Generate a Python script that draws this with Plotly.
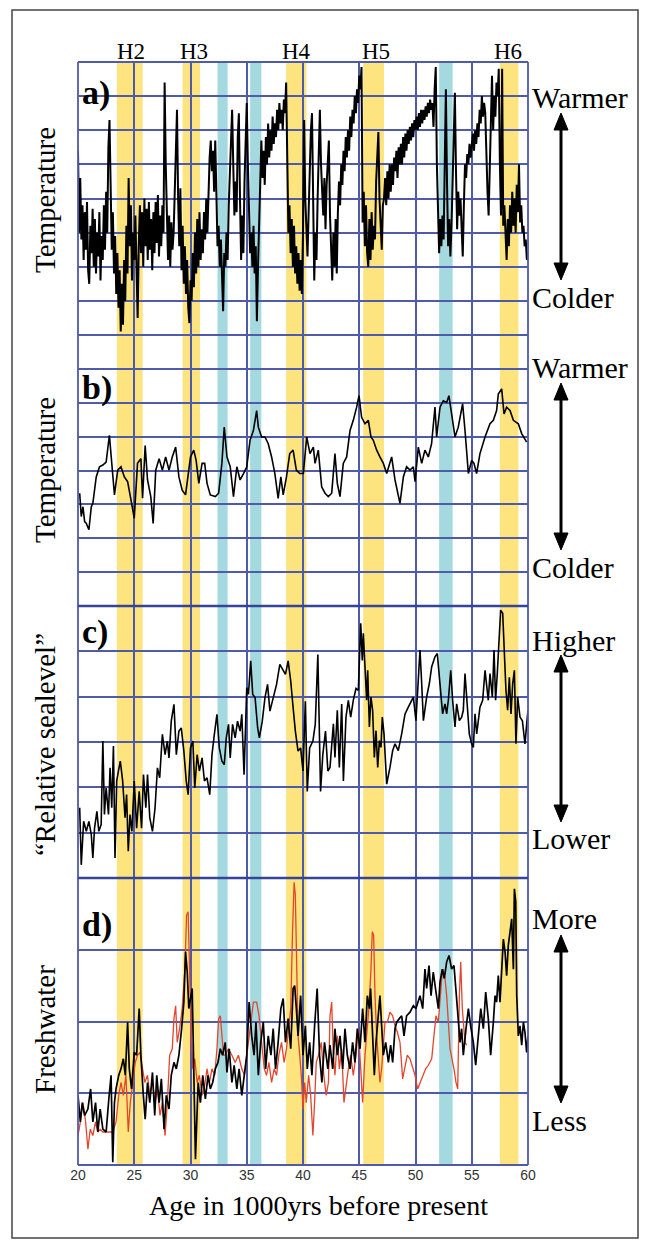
import plotly.graph_objects as go

# ---------------- data ----------------
# Panel a: temperature proxy (grid units 0..8)
a_age = [20.0,20.1,20.2,20.3,20.4,20.5,20.6,20.7,20.8,20.9,
21.0,21.1,21.2,21.3,21.4,21.5,21.6,21.7,21.8,21.9,
22.0,22.1,22.2,22.3,22.4,22.5,22.6,22.7,22.8,22.9,
23.0,23.1,23.2,23.3,23.4,23.5,23.6,23.7,23.8,23.9,
24.0,24.1,24.2,24.3,24.4,24.5,24.6,24.7,24.8,24.9,
25.0,25.1,25.2,25.3,25.4,25.5,25.6,25.7,25.8,25.9,
26.0,26.1,26.2,26.3,26.4,26.5,26.6,26.7,26.8,26.9,
27.0,27.1,27.2,27.3,27.4,27.5,27.6,27.7,27.8,27.9,
28.0,28.1,28.2,28.3,28.4,28.5,28.6,28.7,28.8,28.9,
29.0,29.1,29.2,29.3,29.4,29.5,29.6,29.7,29.8,29.9,
30.0,30.1,30.2,30.3,30.4,30.5,30.6,30.7,30.8,30.9,
31.0,31.1,31.2,31.3,31.4,31.5,31.6,31.7,31.8,31.9,
32.0,32.1,32.2,32.3,32.4,32.5,32.6,32.7,32.8,32.9,
33.0,33.1,33.2,33.3,33.4,33.5,33.6,33.7,33.8,33.9,
34.0,34.1,34.2,34.3,34.4,34.5,34.6,34.7,34.8,34.9,
35.0,35.1,35.2,35.3,35.4,35.5,35.6,35.7,35.8,35.9,
36.0,36.1,36.2,36.3,36.4,36.5,36.6,36.7,36.8,36.9,
37.0,37.1,37.2,37.3,37.4,37.5,37.6,37.7,37.8,37.9,
38.0,38.1,38.2,38.3,38.4,38.5,38.6,38.7,38.8,38.9,
39.0,39.1,39.2,39.3,39.4,39.5,39.6,39.7,39.8,39.9,
40.0,40.1,40.2,40.3,40.4,40.5,40.6,40.7,40.8,40.9,
41.0,41.1,41.2,41.3,41.4,41.5,41.6,41.7,41.8,41.9,
42.0,42.1,42.2,42.3,42.4,42.5,42.6,42.7,42.8,42.9,
43.0,43.1,43.2,43.3,43.4,43.5,43.6,43.7,43.8,43.9,
44.0,44.1,44.2,44.3,44.4,44.5,44.6,44.7,44.8,44.9,
45.0,45.1,45.2,45.3,45.4,45.5,45.6,45.7,45.8,45.9,
46.0,46.1,46.2,46.3,46.4,46.5,46.6,46.7,46.8,46.9,
47.0,47.1,47.2,47.3,47.4,47.5,47.6,47.7,47.8,47.9,
48.0,48.1,48.2,48.3,48.4,48.5,48.6,48.7,48.8,48.9,
49.0,49.1,49.2,49.3,49.4,49.5,49.6,49.7,49.8,49.9,
50.0,50.1,50.2,50.3,50.4,50.5,50.6,50.7,50.8,50.9,
51.0,51.1,51.2,51.3,51.4,51.5,51.6,51.7,51.8,51.9,
52.0,52.1,52.2,52.3,52.4,52.5,52.6,52.7,52.8,52.9,
53.0,53.1,53.2,53.3,53.4,53.5,53.6,53.7,53.8,53.9,
54.0,54.1,54.2,54.3,54.4,54.5,54.6,54.7,54.8,54.9,
55.0,55.1,55.2,55.3,55.4,55.5,55.6,55.7,55.8,55.9,
56.0,56.1,56.2,56.3,56.4,56.5,56.6,56.7,56.8,56.9,
57.0,57.1,57.2,57.3,57.4,57.5,57.6,57.7,57.8,57.9,
58.0,58.1,58.2,58.3,58.4,58.5,58.6,58.7,58.8,58.9,
59.0,59.1,59.2,59.3,59.4,59.5,59.6,59.7,59.8,59.9,
60.0]
a_val = [5.4,3.0,4.6,2.8,3.8,2.2,3.6,2.5,3.9,1.9,
1.5,3.2,2.4,3.7,2.0,3.4,1.8,3.0,2.3,3.6,
1.6,2.9,2.2,3.8,2.5,4.2,3.0,5.5,6.3,4.2,
2.5,3.6,1.8,2.9,1.2,2.4,0.8,1.9,0.1,1.5,
0.3,2.2,1.0,3.2,1.8,4.6,2.6,3.8,1.6,3.0,
2.2,3.5,1.4,0.5,2.6,3.8,2.4,3.6,2.0,4.0,
2.6,3.7,2.2,3.9,2.5,3.4,1.9,3.6,2.4,3.9,
2.7,4.1,2.3,3.5,2.6,3.8,3.0,7.4,5.0,3.1,
2.2,3.5,2.0,3.3,2.5,3.0,4.2,6.0,6.6,4.0,
2.6,4.3,1.9,3.2,1.5,2.6,1.2,2.2,0.8,0.35,
1.6,1.0,2.4,1.4,3.0,1.8,3.4,2.0,3.6,2.2,
3.1,2.4,3.6,2.8,4.0,3.0,4.6,5.2,5.7,4.8,
5.4,4.2,5.7,3.4,2.6,3.2,2.0,2.8,1.8,0.7,
2.4,2.0,3.0,2.2,3.8,5.0,6.0,6.6,5.0,3.5,
4.5,3.6,5.8,6.5,4.0,2.2,3.5,2.4,4.5,6.0,
6.8,5.0,3.2,2.4,3.0,2.0,3.2,1.8,2.6,0.4,
2.0,3.0,4.5,5.7,4.6,5.4,4.4,5.8,5.0,6.2,
5.2,6.0,5.4,6.4,5.6,6.2,5.8,6.6,6.0,6.8,
6.2,6.6,6.0,6.9,6.5,7.4,4.5,3.0,3.8,2.4,
3.4,2.0,3.2,1.8,2.6,1.5,2.4,1.3,2.2,1.2,
3.0,6.3,4.0,2.8,2.3,3.6,5.0,6.0,6.5,4.2,
1.6,3.0,2.2,4.0,5.5,6.6,5.0,4.2,3.5,4.6,
3.1,4.4,5.2,5.7,3.5,2.6,1.6,3.0,2.0,3.4,
1.8,3.6,4.5,3.8,5.0,4.4,5.4,4.8,5.8,5.2,
6.0,5.4,6.4,5.8,6.6,6.2,7.0,6.5,7.2,6.8,
7.6,7.2,7.85,3.3,4.2,2.6,3.8,2.4,2.0,3.4,
2.2,3.6,2.5,3.2,2.8,4.5,5.4,5.95,4.0,3.0,
2.5,3.8,4.0,4.6,3.8,4.8,4.0,5.0,4.2,5.0,
4.4,5.2,4.8,5.4,4.6,5.5,5.0,5.6,5.0,5.8,
5.2,5.9,5.4,6.0,5.6,6.1,5.7,6.2,5.8,6.3,
6.0,6.4,6.0,6.5,6.1,6.6,6.2,6.6,6.3,6.7,
6.4,6.8,6.5,6.9,6.6,6.8,6.1,7.2,7.85,5.0,
3.1,2.4,3.4,2.6,3.5,2.8,5.0,7.2,4.5,2.6,
3.4,2.3,3.2,4.5,6.0,7.1,4.8,3.1,4.2,3.5,
4.0,3.0,2.3,3.8,5.0,4.6,5.3,5.0,5.6,5.2,
5.5,5.9,5.4,6.0,5.6,6.2,5.8,6.6,6.2,7.0,
6.4,6.8,6.5,5.0,4.2,3.5,4.8,6.5,7.6,6.0,
7.0,6.4,7.4,7.0,7.8,5.0,3.5,7.8,3.2,3.8,
2.8,2.2,3.4,2.6,3.8,3.0,4.2,3.2,4.0,3.0,
4.4,3.6,5.0,3.3,3.8,3.0,3.2,2.6,2.8,2.2,
2.4]

# Panel b: temperature proxy (grid units 0..8)
b_age = [20.15,20.29,20.44,20.59,20.74,20.97,21.18,21.32,21.62,21.91,22.21,22.5,22.79,22.94,
23.24,23.53,23.82,24.12,24.41,24.71,25.0,25.29,25.59,25.74,25.97,26.18,26.47,26.68,26.91,
27.21,27.5,27.79,28.09,28.38,28.68,28.97,29.26,29.56,30.0,30.29,30.5,30.74,31.03,31.26,
31.47,31.76,32.21,32.5,32.79,33.0,33.24,33.53,33.82,34.12,34.41,34.71,35.0,35.29,35.59,
35.88,36.03,36.32,36.62,36.91,37.21,37.5,37.79,38.03,38.24,38.53,38.82,39.12,39.41,39.71,
40.03,40.33,40.62,40.92,41.07,41.36,41.66,41.96,42.25,42.55,42.84,43.05,43.29,43.58,43.88,
44.18,44.47,44.77,44.98,45.21,45.51,45.81,46.04,46.25,46.55,46.84,47.14,47.44,47.88,48.18,
48.62,48.92,49.21,49.51,49.81,49.96,50.25,50.55,50.84,51.14,51.43,51.73,51.88,52.18,52.47,
52.77,52.97,53.21,53.51,53.8,54.19,54.4,54.55,54.7,54.99,55.2,55.43,55.73,56.18,56.62,
56.92,57.21,57.36,57.66,57.87,58.1,58.4,58.7,59.14,59.44,59.88]
b_val = [3.33,2.64,2.93,2.49,2.44,2.25,2.93,3.03,3.81,4.11,4.16,4.25,5.04,4.40,
3.28,4.01,4.11,3.81,3.67,3.13,2.59,4.21,4.35,3.18,4.74,3.72,3.23,2.44,4.01,
4.35,4.01,4.40,4.01,4.40,4.69,3.81,3.42,3.28,4.40,4.60,4.30,3.62,4.21,4.21,
3.62,3.28,3.23,3.33,4.21,5.28,4.40,4.11,3.23,4.11,3.72,3.91,4.11,4.89,5.18,
5.77,5.28,4.99,4.99,4.79,4.40,3.91,3.18,3.81,3.28,3.81,4.50,4.60,4.01,3.91,
3.91,4.99,4.50,4.69,4.21,4.60,3.52,3.33,3.23,3.33,4.50,3.62,3.23,4.21,4.40,
5.18,5.48,5.87,6.21,5.57,5.38,5.48,4.99,4.89,4.60,4.40,4.21,3.91,4.40,3.72,
3.03,3.81,4.11,4.01,4.11,3.67,4.69,4.21,4.60,4.40,4.79,5.87,4.99,5.87,6.06,
6.01,6.21,5.67,4.99,5.28,5.97,5.18,4.40,3.91,4.30,4.21,3.91,4.50,4.99,5.38,
5.48,5.77,6.26,6.41,5.67,5.87,5.77,5.48,5.38,5.09,4.84]

# Panel c: relative sea level (grid units 0..6)
c_age = [20.15,20.29,20.5,20.74,20.97,21.18,21.32,21.47,21.68,21.85,22.06,22.21,22.35,22.5,
22.71,22.85,23.0,23.15,23.29,23.44,23.59,23.76,23.97,24.18,24.32,24.47,24.62,24.79,25.0,
25.21,25.44,25.65,25.82,26.03,26.18,26.38,26.62,26.85,27.06,27.26,27.5,27.74,27.94,28.09,
28.29,28.53,28.74,28.97,29.18,29.41,29.62,29.79,30.0,30.21,30.38,30.59,30.79,31.03,31.24,
31.47,31.71,31.91,32.12,32.35,32.56,32.79,33.0,33.18,33.38,33.53,33.74,33.97,34.18,34.41,
34.56,34.76,35.0,35.15,35.35,35.53,35.74,35.97,36.12,36.38,36.62,36.85,37.06,37.35,37.65,
37.94,38.24,38.44,38.68,38.91,39.12,39.32,39.56,39.79,40.0,40.21,40.38,40.59,40.88,41.09,
41.32,41.56,41.76,42.0,42.21,
42.4,42.7,42.84,43.05,43.23,43.44,43.59,43.82,44.03,44.24,44.47,44.71,44.92,45.13,45.27,
45.36,45.51,45.66,45.75,45.9,46.04,46.19,46.34,46.49,46.64,46.79,46.93,47.05,47.2,47.44,
47.73,47.97,48.18,48.47,48.77,49.07,49.36,49.66,49.81,50.04,50.25,50.4,50.55,50.7,50.99,
51.23,51.44,51.73,51.94,52.18,52.41,52.62,52.77,52.92,53.13,53.3,53.51,53.66,53.9,54.1,
54.25,54.4,54.61,54.78,54.99,55.14,55.29,55.44,55.73,55.97,56.18,56.33,56.47,56.62,56.83,
56.98,57.12,57.27,57.42,57.57,57.75,57.9,58.04,58.19,58.34,58.49,58.64,58.79,58.93,59.08,
59.29,59.5,59.73,59.94,60.0]
c_val = [1.55,0.29,1.25,1.03,1.25,0.96,0.44,1.10,1.47,1.03,1.18,3.02,1.40,1.99,
1.40,2.43,1.55,2.91,0.44,2.14,2.36,2.58,2.14,1.33,1.84,0.59,1.40,1.03,2.14,
1.10,1.91,1.10,2.28,1.55,2.28,1.33,1.03,1.55,2.43,2.21,3.17,2.72,3.02,2.65,
3.46,3.83,2.72,3.24,3.31,2.80,2.14,1.84,2.87,3.02,1.99,2.72,2.36,2.65,2.14,
2.21,1.84,2.72,3.17,3.61,2.87,2.58,2.50,3.09,3.39,2.65,3.39,3.09,3.46,3.24,
3.61,2.28,4.20,4.05,4.79,4.05,3.98,3.31,3.09,3.46,3.98,4.27,3.68,3.98,4.27,
4.71,4.57,4.49,4.79,4.34,3.76,3.24,2.80,2.87,2.36,3.90,1.91,2.87,3.02,3.39,
4.93,1.91,2.72,3.24,2.36,
2.44,3.40,2.66,3.70,2.44,3.84,2.14,3.55,3.92,3.55,3.92,4.18,4.14,5.62,4.80,
5.40,4.73,3.92,4.58,3.33,3.99,3.70,2.66,3.25,2.44,3.03,2.88,3.55,3.18,2.07,
2.44,2.81,2.96,2.81,3.18,3.62,3.77,3.92,3.99,3.47,4.29,5.03,4.29,3.47,3.99,
4.29,4.66,4.88,4.95,4.21,3.62,3.84,3.62,3.92,4.58,3.92,3.33,3.84,3.47,3.55,
3.70,4.51,3.70,3.18,2.96,2.88,3.62,3.18,3.77,3.92,4.58,4.21,3.92,4.51,3.99,
5.03,3.92,4.51,5.25,5.91,5.84,5.03,4.14,3.70,4.43,3.62,4.29,4.58,2.96,3.99,
3.55,3.47,2.96,3.55,3.70]

# Panel d: freshwater, black record (grid units 0..4)
d_age = [20.0,20.21,20.38,20.59,20.88,21.12,21.32,21.56,21.76,21.97,22.21,22.5,22.74,22.94,
23.09,23.24,23.38,23.62,23.82,24.03,24.21,24.41,24.56,24.76,25.0,25.21,25.44,25.59,25.79,
25.97,26.18,26.38,26.62,26.82,27.0,27.21,27.41,27.65,27.85,28.09,28.29,28.53,28.74,28.97,
29.21,29.41,29.56,29.71,29.85,30.0,30.15,30.29,30.44,30.68,30.88,31.09,31.32,31.56,31.76,
31.97,32.21,32.44,32.65,32.85,33.09,33.24,33.44,33.68,33.88,34.12,34.32,34.56,34.76,35.0,
35.21,35.44,35.65,35.82,36.03,36.24,36.47,36.68,36.91,37.15,37.35,37.56,37.79,38.03,38.24,
38.44,38.68,38.91,39.12,39.26,39.41,39.56,39.79,40.0,40.21,40.38,40.59,40.79,41.03,41.26,
41.47,41.68,41.91,42.21,
42.4,42.64,42.84,43.05,43.29,43.53,43.73,43.94,44.18,44.41,44.62,44.83,45.07,45.3,45.51,
45.72,45.9,46.01,46.19,46.34,46.49,46.7,46.84,46.99,47.14,47.35,47.59,47.79,47.97,48.18,
48.33,48.56,48.77,48.98,49.21,49.51,49.81,50.04,50.19,50.4,50.64,50.84,50.99,51.2,51.38,
51.58,51.82,52.03,52.18,52.38,52.56,52.77,52.98,53.21,53.42,53.6,53.75,53.96,54.1,54.25,
54.49,54.7,54.9,55.14,55.35,55.59,55.8,56.03,56.24,56.47,56.68,56.92,57.07,57.21,57.36,
57.51,57.66,57.81,57.96,58.1,58.25,58.4,58.55,58.7,58.79,58.91,59.0,59.14,59.29,59.44,
59.59,59.73,59.88,60.0]
d_val = [0.97,0.60,0.87,0.69,0.78,1.06,0.60,0.87,0.46,0.78,0.50,0.46,0.92,1.25,
0.04,0.87,1.06,1.25,1.34,1.48,1.25,1.99,1.34,1.06,1.57,1.53,2.18,1.53,1.01,
0.64,1.15,0.87,1.29,0.69,1.25,0.87,1.20,0.50,0.97,0.78,1.25,1.43,1.34,1.53,
1.90,2.27,2.97,2.69,2.18,2.36,2.46,1.34,0.08,1.15,0.87,1.25,0.92,1.25,1.06,
1.15,1.34,1.43,1.62,1.53,1.71,1.29,1.62,1.15,1.39,1.06,1.34,0.97,1.25,1.53,
2.27,1.80,1.53,1.99,1.25,1.71,1.99,1.34,1.80,1.53,1.90,1.34,1.71,2.18,2.32,
1.71,2.04,1.62,2.46,2.50,2.18,1.80,2.36,1.53,1.94,1.34,1.71,1.25,1.94,2.46,
1.53,1.15,1.71,1.34,
1.67,1.34,1.90,1.53,1.80,1.34,1.90,1.53,1.34,1.71,1.43,1.90,1.62,2.18,1.71,
2.36,2.18,2.46,1.80,1.25,1.71,2.18,2.36,1.94,1.53,1.71,1.43,1.67,1.43,1.90,
1.99,2.04,2.08,1.80,2.08,2.13,2.22,2.18,2.27,2.36,2.18,2.73,2.46,2.78,2.36,
2.69,2.41,2.18,2.55,2.73,2.60,2.83,2.92,2.73,2.78,2.46,2.08,1.71,1.90,1.53,
1.90,2.18,1.94,1.71,1.39,1.80,2.18,1.90,2.41,2.04,1.53,1.99,2.36,2.27,2.64,
2.27,2.73,3.15,2.97,2.64,3.06,3.29,3.43,2.73,3.85,3.67,2.36,1.80,1.94,1.67,
1.99,1.85,1.57,1.80]

# Panel d: freshwater, red record (grid units 0..4)
r_age = [20.0,20.21,20.44,20.68,20.88,21.09,21.32,21.56,21.76,21.97,22.21,22.5,22.79,23.09,
23.38,23.62,23.82,24.03,24.26,24.47,24.65,24.85,25.09,25.29,25.5,25.74,25.94,26.18,26.38,
26.62,26.85,27.06,27.29,27.5,27.74,27.94,28.15,28.38,28.53,28.68,28.82,29.03,29.26,29.5,
29.65,29.79,29.91,30.06,30.21,30.38,30.59,30.79,31.03,31.26,31.47,31.68,31.91,32.15,32.35,
32.5,32.65,32.79,32.94,33.09,33.38,33.68,33.97,34.26,34.56,34.79,35.0,35.29,35.59,35.88,
36.09,36.32,36.56,36.76,36.97,37.21,37.44,37.65,37.85,38.09,38.32,38.53,38.74,38.91,39.06,
39.21,39.32,39.44,39.56,39.71,39.85,40.0,40.15,40.29,40.5,40.68,40.88,41.03,41.18,41.38,
41.62,41.85,42.06,42.26,
42.4,42.55,42.7,42.84,43.05,43.23,43.44,43.64,43.82,44.03,44.24,44.47,44.71,44.92,45.13,
45.3,45.51,45.72,45.9,46.04,46.16,46.28,46.4,46.55,46.7,46.84,46.99,47.14,47.29,47.5,
47.73,47.97,48.18,48.39,48.62,48.86,49.07,49.27,49.51,49.75,49.96,50.19,50.4,50.64,50.9,
51.14,51.44,51.64,51.82,52.03,52.18,52.33,52.47,52.62,52.77,52.92,53.07,53.3,53.42,53.6,
53.75,53.9,54.02,54.16,54.4,54.55]
r_val = [0.41,0.60,0.87,0.60,0.22,0.50,0.41,0.60,0.46,0.50,0.46,0.46,0.46,0.46,
0.60,0.97,1.15,0.97,1.25,0.46,0.87,1.15,1.43,1.53,1.57,1.34,1.15,1.25,0.97,
1.15,0.87,1.06,0.69,0.87,0.41,0.87,1.53,1.62,2.04,2.22,1.71,1.90,2.18,2.73,
3.48,3.53,2.73,1.80,1.34,1.48,1.15,1.25,0.97,1.11,1.34,1.15,1.34,1.25,1.62,
2.04,2.08,1.80,1.53,1.53,1.62,1.53,1.43,1.53,1.34,1.25,1.53,1.90,2.27,2.27,
2.08,1.71,1.34,1.25,1.43,1.15,1.34,1.25,1.53,1.71,1.43,1.62,1.99,2.18,3.20,
3.94,3.76,2.73,1.80,1.53,1.25,0.78,1.15,0.87,1.25,0.97,0.41,0.87,1.43,1.53,
1.71,1.25,0.97,1.15,
2.08,2.27,1.53,1.25,1.80,1.34,1.62,0.87,1.11,1.34,1.53,1.25,1.53,1.90,1.34,
0.87,1.53,1.90,2.27,2.73,3.25,3.20,2.36,1.80,1.43,1.15,1.34,1.71,1.99,1.99,
2.13,2.08,1.94,1.85,1.71,1.20,1.39,1.53,1.48,1.34,1.25,1.06,1.15,1.25,1.34,
1.39,1.48,1.80,2.08,1.99,2.36,2.60,2.73,2.60,2.36,2.04,1.62,1.43,1.34,1.15,
1.06,2.36,2.83,2.18,1.71,1.67]

# Heinrich (yellow) and other (blue) event bands, ka
yellow_bands = [(23.45, 25.75), (29.3, 30.85), (38.5, 40.3), (45.35, 47.2), (57.5, 59.15)]
blue_bands = [(32.4, 33.3), (35.3, 36.3), (52.1, 53.3)]
h_labels = ["H2", "H3", "H4", "H5", "H6"]
h_label_age = [24.75, 30.3, 39.4, 46.5, 58.2]

x_ticks = [20, 25, 30, 35, 40, 45, 50, 55, 60]
panel_letters = ["a)", "b)", "c)", "d)"]
y_titles = ["Temperature", "Temperature", "“Relative sealevel”", "Freshwater"]
top_words = ["Warmer", "Warmer", "Higher", "More"]
bottom_words = ["Colder", "Colder", "Lower", "Less"]

# ---------------- geometry helpers ----------------
W, H = 649, 1247
L, R, T, B = 78, 528, 62, 1165
PW, PH = R - L, B - T


def px(xp):
    return (xp - L) / PW


def py(yp):
    return (B - yp) / PH


GRID = "#4f5aa8"
SERIF = "Liberation Serif"

panel_px = [(62, 335), (335, 606), (606, 878), (878, 1165)]
y_ranges = [[0, 8], [0, 8], [0, 6], [0, 4]]

fig = go.Figure()

series = [
    (a_age, a_val, 1, "black", 2.0),
    (b_age, b_val, 2, "black", 1.6),
    (c_age, c_val, 3, "black", 1.6),
    (r_age, r_val, 4, "#e2462c", 1.3),
    (d_age, d_val, 4, "black", 1.7),
]
for xs, ys, k, col, w in series:
    fig.add_trace(go.Scatter(
        x=xs, y=ys, mode="lines",
        xaxis="x" if k == 1 else f"x{k}",
        yaxis="y" if k == 1 else f"y{k}",
        line=dict(color=col, width=w),
        hoverinfo="skip", showlegend=False,
    ))

layout = dict(
    width=W, height=H,
    margin=dict(l=L, r=W - R, t=T, b=H - B),
    paper_bgcolor="white", plot_bgcolor="rgba(0,0,0,0)",
    showlegend=False,
)
for i in range(4):
    k = i + 1
    xname = "xaxis" if k == 1 else f"xaxis{k}"
    yname = "yaxis" if k == 1 else f"yaxis{k}"
    top, bot = panel_px[i]
    layout[xname] = dict(
        domain=[0, 1], range=[20, 60], anchor="y" if k == 1 else f"y{k}",
        tickvals=x_ticks, showgrid=True, gridcolor=GRID, gridwidth=1.7,
        showline=False, zeroline=False, ticks="",
        showticklabels=(k == 4),
        tickfont=dict(family="Liberation Sans", size=14, color="#333"),
    )
    layout[yname] = dict(
        domain=[py(bot), py(top)], range=y_ranges[i], anchor="x" if k == 1 else f"x{k}",
        dtick=1, tick0=0, showgrid=True, gridcolor=GRID, gridwidth=1.7,
        showline=False, zeroline=False, ticks="", showticklabels=False,
    )
fig.update_layout(**layout)

shapes = []
for x0, x1 in yellow_bands:
    shapes.append(dict(type="rect", xref="x", yref="paper", x0=x0, x1=x1, y0=0, y1=1,
                       fillcolor="#fde47e", line=dict(width=0), layer="below"))
for x0, x1 in blue_bands:
    shapes.append(dict(type="rect", xref="x", yref="paper", x0=x0, x1=x1, y0=0, y1=1,
                       fillcolor="#a5d9e0", line=dict(width=0), layer="below"))
# panel borders: left/right edges and horizontal boundaries
shapes.append(dict(type="line", xref="paper", yref="paper", x0=0, x1=0, y0=0, y1=1,
                   line=dict(color=GRID, width=1.8)))
shapes.append(dict(type="line", xref="paper", yref="paper", x0=1, x1=1, y0=0, y1=1,
                   line=dict(color=GRID, width=1.8)))
for yp in (62, 335, 1165):
    shapes.append(dict(type="line", xref="paper", yref="paper", x0=0, x1=1,
                       y0=py(yp), y1=py(yp), line=dict(color=GRID, width=1.8)))
for yp in (606, 878):
    shapes.append(dict(type="line", xref="paper", yref="paper", x0=0, x1=1,
                       y0=py(yp), y1=py(yp), line=dict(color="#34449a", width=2.6)))
# outer frame
shapes.append(dict(type="rect", xref="paper", yref="paper",
                   x0=px(12), x1=px(638), y0=py(1238), y1=py(10),
                   line=dict(color="#444", width=1.5)))

# double-headed arrows on the right
arrow_px = [(113, 280), (383, 550), (655, 822), (935, 1103)]
ax_x = 561
hw, hh = 7, 17
for ytop, ybot in arrow_px:
    shapes.append(dict(type="line", xref="paper", yref="paper",
                       x0=px(ax_x), x1=px(ax_x), y0=py(ytop + hh - 2), y1=py(ybot - hh + 2),
                       line=dict(color="black", width=3)))
    shapes.append(dict(type="path", xref="paper", yref="paper",
                       path=f"M {px(ax_x)} {py(ytop)} L {px(ax_x - hw)} {py(ytop + hh)} L {px(ax_x + hw)} {py(ytop + hh)} Z",
                       fillcolor="black", line=dict(color="black", width=1)))
    shapes.append(dict(type="path", xref="paper", yref="paper",
                       path=f"M {px(ax_x)} {py(ybot)} L {px(ax_x - hw)} {py(ybot - hh)} L {px(ax_x + hw)} {py(ybot - hh)} Z",
                       fillcolor="black", line=dict(color="black", width=1)))
fig.update_layout(shapes=shapes)

ann = []
for lab, ag in zip(h_labels, h_label_age):
    ann.append(dict(text=lab, x=ag, xref="x", y=py(52), yref="paper", showarrow=False,
                    xanchor="center", yanchor="middle",
                    font=dict(family=SERIF, size=23, color="black")))
letter_py = [93, 388, 632, 925]
for lab, yp in zip(panel_letters, letter_py):
    ann.append(dict(text=f"<b>{lab}</b>", x=px(80), xref="paper", y=py(yp), yref="paper",
                    showarrow=False, xanchor="left", yanchor="middle",
                    font=dict(family=SERIF, size=34, color="black")))
title_py = [200, 470, 745, 1030]
for lab, yp in zip(y_titles, title_py):
    ann.append(dict(text=lab, x=px(45), xref="paper", y=py(yp), yref="paper", textangle=-90,
                    showarrow=False, xanchor="center", yanchor="middle",
                    font=dict(family=SERIF, size=29, color="black")))
top_py = [97, 367, 640, 918]
bot_py = [297, 567, 838, 1120]
for wtop, wbot, yt, yb in zip(top_words, bottom_words, top_py, bot_py):
    ann.append(dict(text=wtop, x=px(530), xref="paper", y=py(yt), yref="paper", showarrow=False,
                    xanchor="left", yanchor="middle", font=dict(family=SERIF, size=30, color="black")))
    ann.append(dict(text=wbot, x=px(530), xref="paper", y=py(yb), yref="paper", showarrow=False,
                    xanchor="left", yanchor="middle", font=dict(family=SERIF, size=30, color="black")))
ann.append(dict(text="Age in 1000yrs before present", x=px(318), xref="paper", y=py(1205), yref="paper",
                showarrow=False, xanchor="center", yanchor="middle",
                font=dict(family=SERIF, size=28, color="black")))
fig.update_layout(annotations=ann)

fig.write_html("out.html", config={"displayModeBar": False},
               post_script="document.body.style.margin='0px';")
